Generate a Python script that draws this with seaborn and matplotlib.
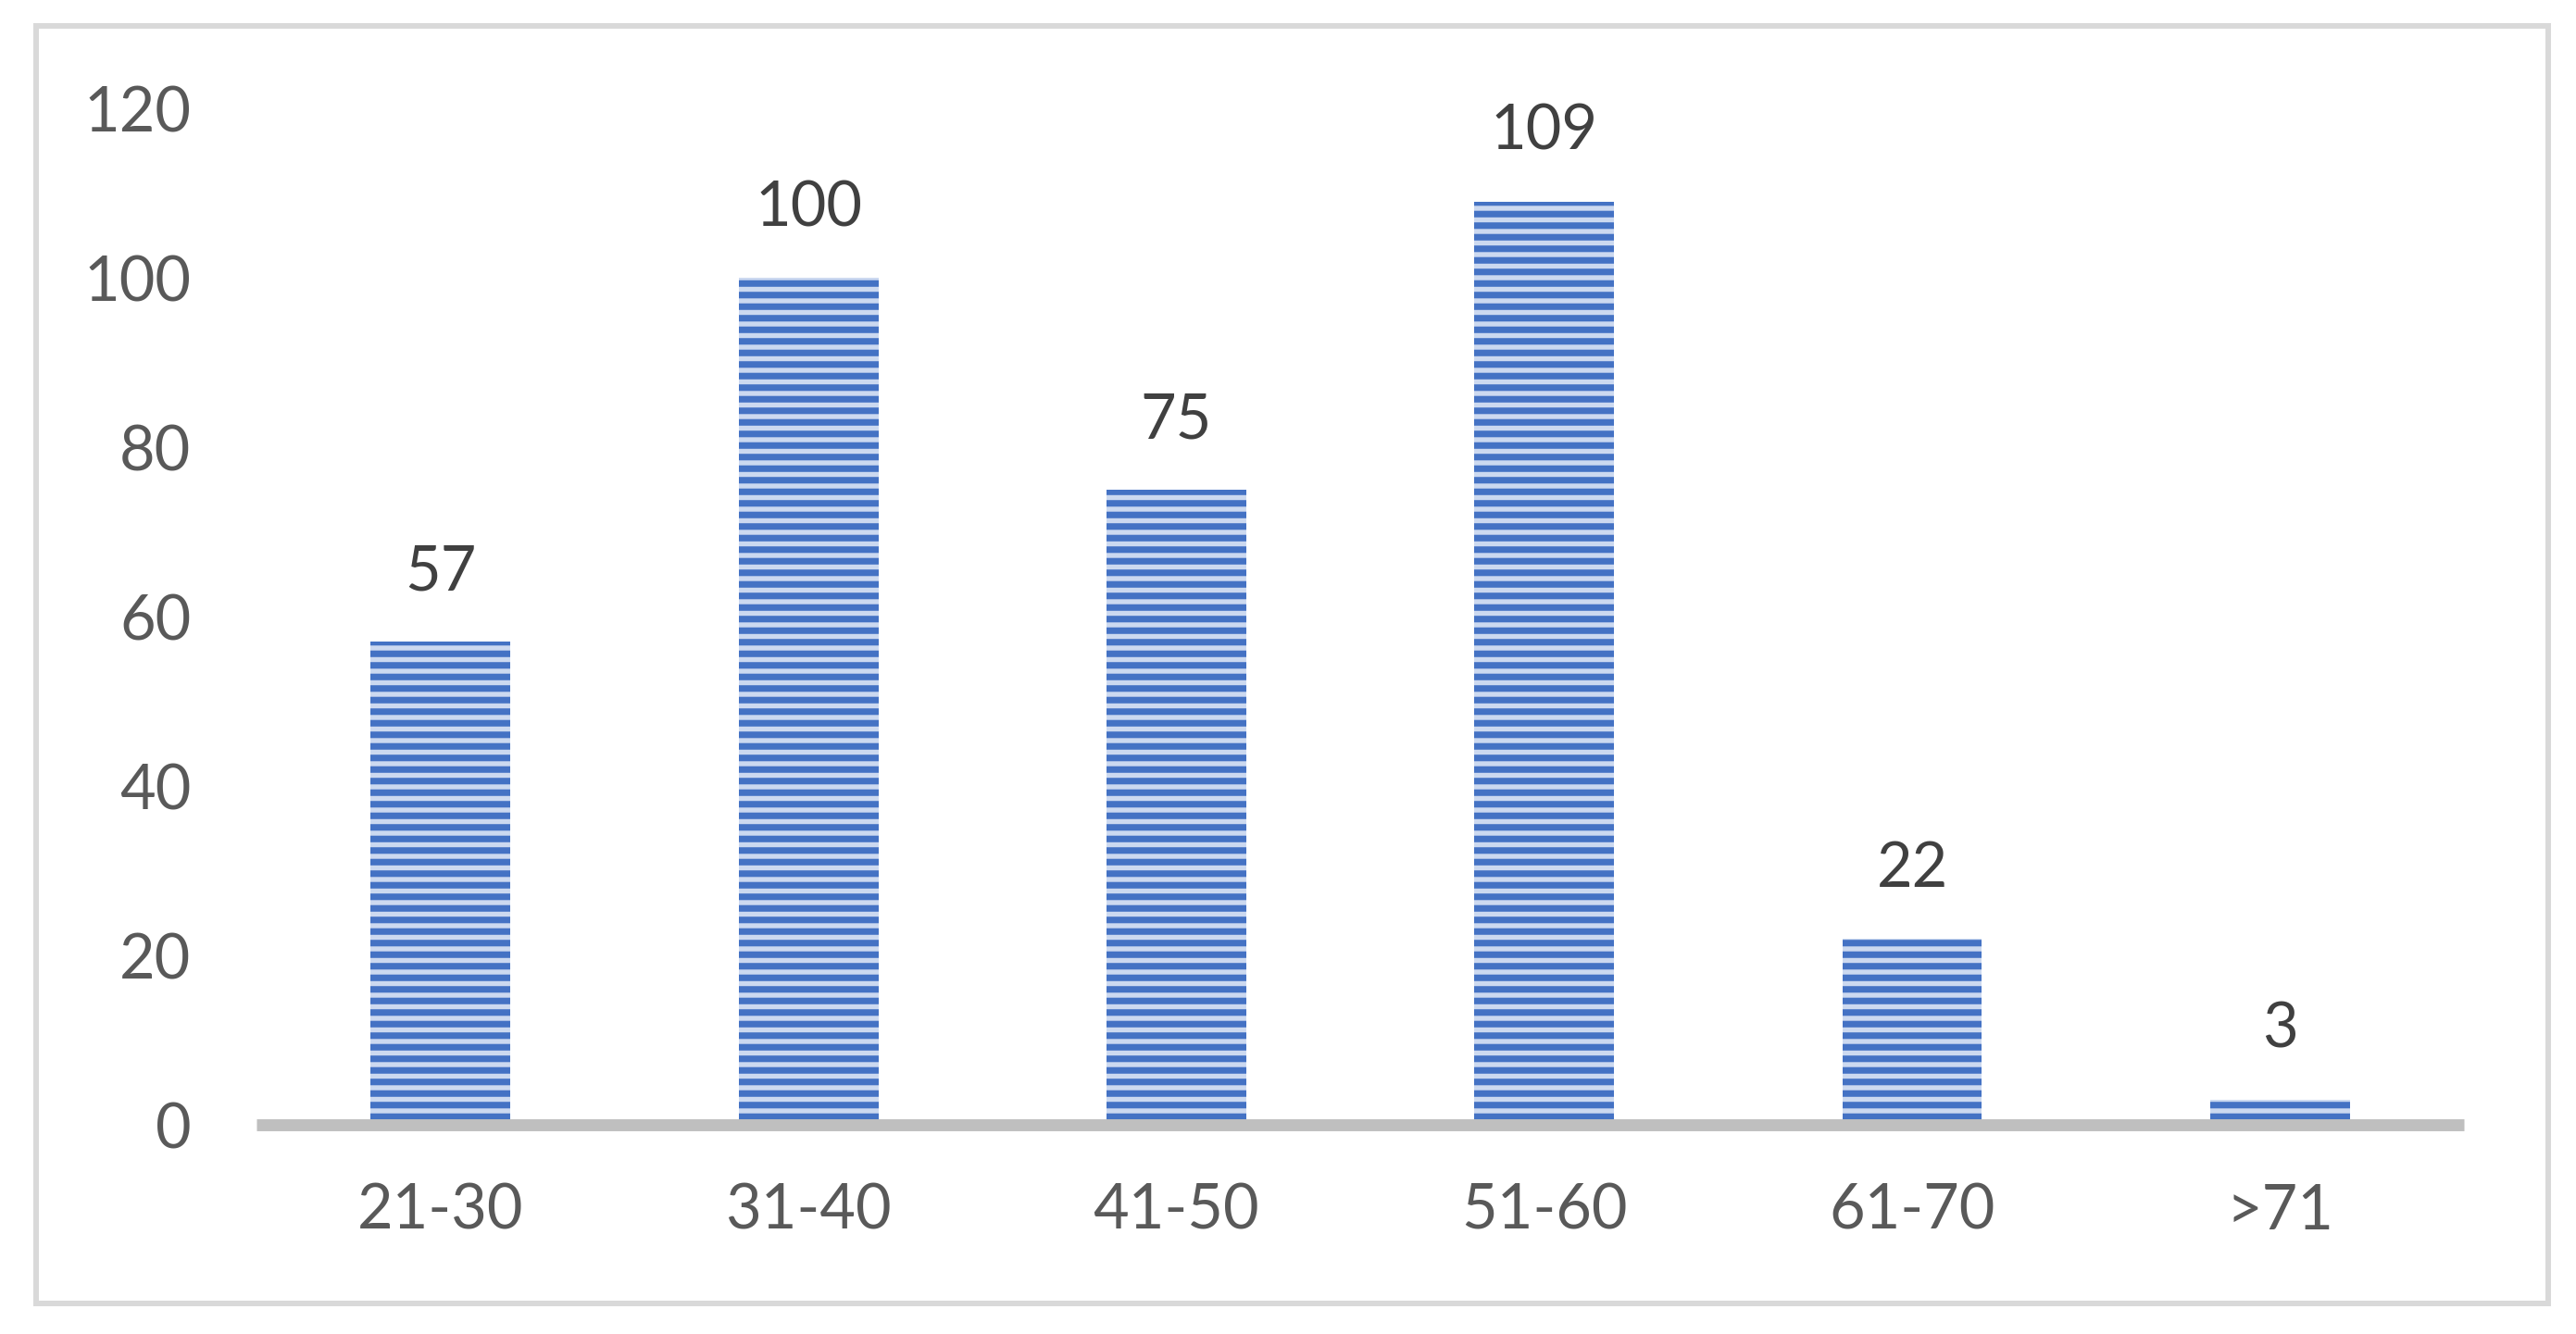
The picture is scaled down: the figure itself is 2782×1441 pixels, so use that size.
import matplotlib
matplotlib.use("Agg")
import matplotlib.pyplot as plt
from matplotlib.patches import Rectangle
import seaborn as sns

# ---------------------------------------------------------------------------
# Data
# ---------------------------------------------------------------------------
age_groups = ["21-30", "31-40", "41-50", "51-60", "61-70", ">71"]
counts = [57, 100, 75, 109, 22, 3]
y_ticks = [0, 20, 40, 60, 80, 100, 120]

BLUE = "#4472C4"
LIGHT = "#ccd9f0"

sns.set_style("white")
plt.rcParams["font.family"] = ["Lato", "DejaVu Sans"]
plt.rcParams["hatch.linewidth"] = 3.4
plt.rcParams["hatch.color"] = BLUE

DPI = 150
fig = plt.figure(figsize=(2782 / DPI, 1441 / DPI), dpi=DPI)
ax = fig.add_axes([0.0996, 0.1568, 0.8569, 0.762])

sns.barplot(x=age_groups, y=counts, color=LIGHT, saturation=1,
            width=0.38, ax=ax)

for bar in ax.patches:
    bar.set_facecolor(LIGHT)
    bar.set_edgecolor(BLUE)
    bar.set_linewidth(0)
    bar.set_hatch("--")

ax.bar_label(ax.containers[0], labels=[str(v) for v in counts],
             padding=21, fontsize=32, color="#404040")

ax.set_ylim(0, 120)
ax.set_xlim(-0.5, len(age_groups) - 0.5)
ax.set_yticks(y_ticks)
ax.set_xlabel("")
ax.set_ylabel("")
ax.tick_params(axis="both", length=0, labelsize=32, labelcolor="#595959")
ax.tick_params(axis="y", pad=34)
ax.tick_params(axis="x", pad=30)

for side in ["top", "right", "left"]:
    ax.spines[side].set_visible(False)
ax.spines["bottom"].set_color("#BFBFBF")
ax.spines["bottom"].set_linewidth(6.2)
ax.spines["bottom"].set_capstyle("butt")
ax.spines["bottom"].set_zorder(3)

# outer chart frame
W, H = 2782, 1441
frame = Rectangle((39 / W, 1 - 1408 / H), (2752 - 39) / W, (1408 - 28) / H,
                  transform=fig.transFigure, fill=False,
                  edgecolor="#D9D9D9", linewidth=2.9)
fig.patches.append(frame)

fig.savefig("out.png", dpi=DPI)
